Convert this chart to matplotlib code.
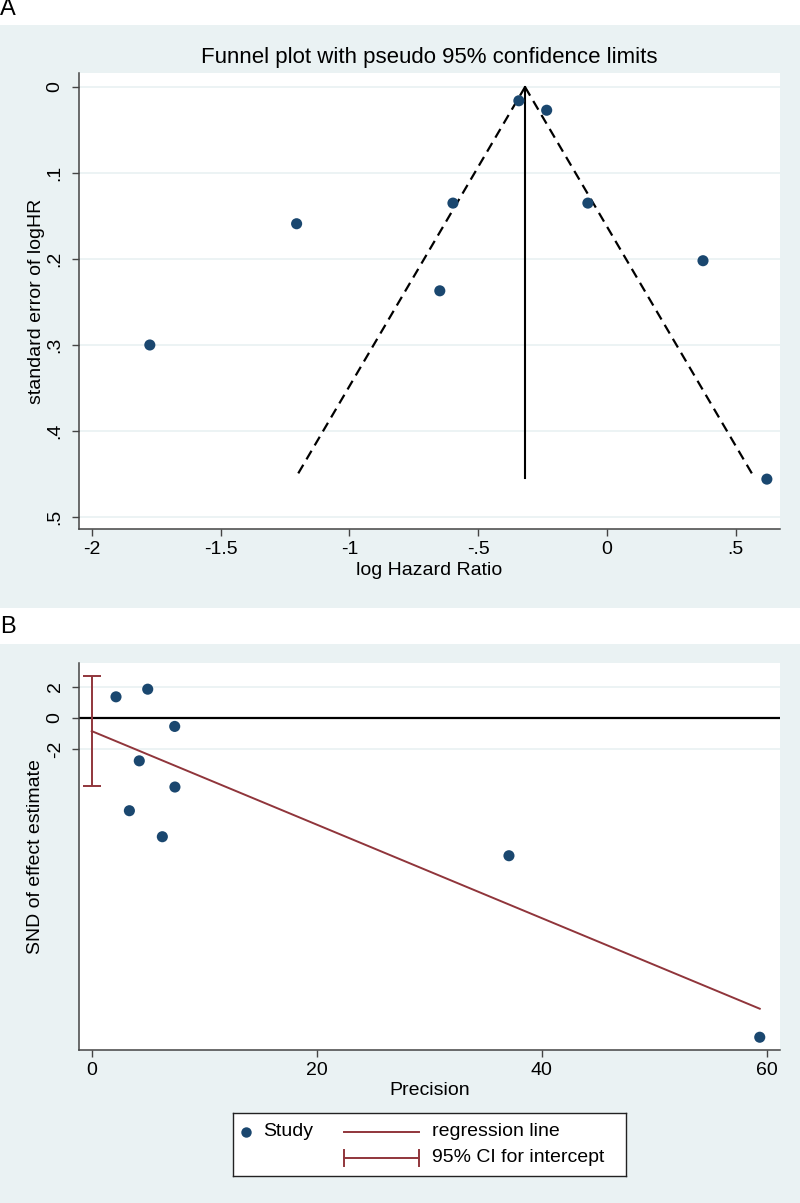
import numpy as np
import matplotlib
matplotlib.use("Agg")
import matplotlib.pyplot as plt
from matplotlib.patches import Rectangle

plt.rcParams['font.family'] = ['Liberation Sans', 'DejaVu Sans']

# panel A: funnel plot data
log_hr = [-1.775, -1.205, -0.598, -0.649, -0.342, -0.234, -0.074, 0.373, 0.621]
se_log_hr = [0.300, 0.159, 0.135, 0.237, 0.016, 0.027, 0.135, 0.202, 0.456]
pooled_log_hr = -0.318
se_max = 0.455

# panel B: Egger plot data
precision = [2.16, 4.98, 7.38, 4.23, 7.40, 3.35, 6.28, 37.1, 59.4]
snd = [1.35, 1.84, -0.55, -2.76, -4.44, -5.96, -7.63, -8.85, -20.5]
reg_intercept = -0.85
reg_slope = -0.300
ci_low, ci_high = -4.40, 2.69

a_xticks = [-2, -1.5, -1, -0.5, 0, 0.5]
a_xticklabels = ['-2', '-1.5', '-1', '-.5', '0', '.5']
a_yticks = [0, 0.1, 0.2, 0.3, 0.4, 0.5]
a_yticklabels = ['0', '.1', '.2', '.3', '.4', '.5']
b_xticks = [0, 20, 40, 60]
b_yticks = [2, 0, -2]

navy = '#1A476F'
maroon = '#90353B'
bg = '#EAF2F3'
spine_c = '#444444'
W, H = 800, 1203

fig = plt.figure(figsize=(8, 12.03), dpi=100, facecolor='white')

# grey graph regions
fig.patches.append(Rectangle((0, 1 - 608 / H), 1, 583 / H, transform=fig.transFigure,
                             facecolor=bg, edgecolor='none', zorder=-5))
fig.patches.append(Rectangle((0, 0), 1, 559 / H, transform=fig.transFigure,
                             facecolor=bg, edgecolor='none', zorder=-5))
fig.text(0.0, 1 - 9 / H, 'A', fontsize=17, va='center', ha='left')
fig.text(0.0, 1 - 627 / H, 'B', fontsize=17, va='center', ha='left')


def style_axes(ax):
    ax.set_facecolor('white')
    for s in ['top', 'right']:
        ax.spines[s].set_visible(False)
    for s in ['left', 'bottom']:
        ax.spines[s].set_color(spine_c)
        ax.spines[s].set_linewidth(1.1)
    ax.tick_params(axis='both', length=5, width=1.0, color=spine_c, labelsize=14)
    ax.tick_params(axis='x', pad=4)
    ax.tick_params(axis='y', pad=6, labelrotation=90)
    for lab in ax.get_yticklabels():
        lab.set_va('center')


# ---- panel A
axA = fig.add_axes([79 / W, 1 - 529 / H, 701 / W, 456 / H])
axA.set_xlim(-2.05, 0.672)
axA.set_ylim(0.514, -0.0163)
axA.set_yticks(a_yticks)
axA.set_yticklabels(a_yticklabels)
axA.set_xticks(a_xticks)
axA.set_xticklabels(a_xticklabels)
for yv in a_yticks:
    axA.axhline(yv, color=bg, lw=1.3, zorder=1)
axA.plot([pooled_log_hr, pooled_log_hr - 1.96 * se_max], [0, se_max],
         color='black', lw=1.6, linestyle=(0, (4.5, 2.8)), zorder=2)
axA.plot([pooled_log_hr, pooled_log_hr + 1.96 * se_max], [0, se_max],
         color='black', lw=1.6, linestyle=(0, (4.5, 2.8)), zorder=2)
axA.plot([pooled_log_hr, pooled_log_hr], [0, se_max], color='black', lw=1.5, zorder=2)
axA.scatter(log_hr, se_log_hr, s=64, color=navy, edgecolors='none', zorder=3, clip_on=False)
style_axes(axA)
axA.set_title('Funnel plot with pseudo 95% confidence limits', fontsize=16, pad=7)
axA.set_xlabel('log Hazard Ratio', fontsize=14)
axA.xaxis.set_label_coords(0.5, -0.072)
axA.set_ylabel('standard error of logHR', fontsize=14)
axA.yaxis.set_label_coords(-0.049, 0.5)

# ---- panel B
axB = fig.add_axes([79 / W, 1 - 1049.7 / H, 701 / W, 387 / H])
axB.set_xlim(-1.13, 61.2)
axB.set_ylim(-21.3, 3.54)
axB.set_xticks(b_xticks)
axB.set_yticks(b_yticks)
axB.set_yticklabels([str(v) for v in b_yticks])
for yv in [2, -2]:
    axB.axhline(yv, color=bg, lw=1.3, zorder=1)
axB.axhline(0, color='black', lw=1.6, zorder=2)
xr = np.array([0, max(precision)])
axB.plot(xr, reg_intercept + reg_slope * xr, color=maroon, lw=1.4, zorder=2)
axB.errorbar([0], [(ci_low + ci_high) / 2],
             yerr=[[(ci_low + ci_high) / 2 - ci_low], [ci_high - (ci_low + ci_high) / 2]],
             fmt='none', ecolor=maroon, elinewidth=1.4, capsize=6.5, capthick=1.4,
             zorder=2, clip_on=False)
axB.scatter(precision, snd, s=64, color=navy, edgecolors='none', zorder=3, clip_on=False)
style_axes(axB)
axB.set_xlabel('Precision', fontsize=14)
axB.xaxis.set_label_coords(0.5, -0.084)
axB.set_ylabel('SND of effect estimate', fontsize=14)
axB.yaxis.set_label_coords(-0.05, 0.5)

# ---- legend box
lw_, lh_ = 393.3, 63.3
axL = fig.add_axes([232.7 / W, 1 - 1176.3 / H, lw_ / W, lh_ / H])
axL.set_xlim(0, lw_)
axL.set_ylim(lh_, 0)
axL.set_xticks([])
axL.set_yticks([])
axL.set_facecolor('white')
for s in axL.spines.values():
    s.set_color('#222222')
    s.set_linewidth(1.0)
axL.plot([13], [19], 'o', color=navy, markersize=7.5, markeredgewidth=0)
axL.text(30.6, 19, 'Study', fontsize=14, va='center', ha='left')
axL.plot([111.3, 186.3], [19, 19], color=maroon, lw=1.4)
axL.text(199, 19, 'regression line', fontsize=14, va='center', ha='left')
axL.plot([111.3, 186.3], [45, 45], color=maroon, lw=1.4)
axL.plot([111.3, 111.3], [37, 53], color=maroon, lw=1.4)
axL.plot([186.3, 186.3], [37, 53], color=maroon, lw=1.4)
axL.text(199, 45, '95% CI for intercept', fontsize=14, va='center', ha='left')

fig.savefig('out.png', dpi=100, facecolor='white')
